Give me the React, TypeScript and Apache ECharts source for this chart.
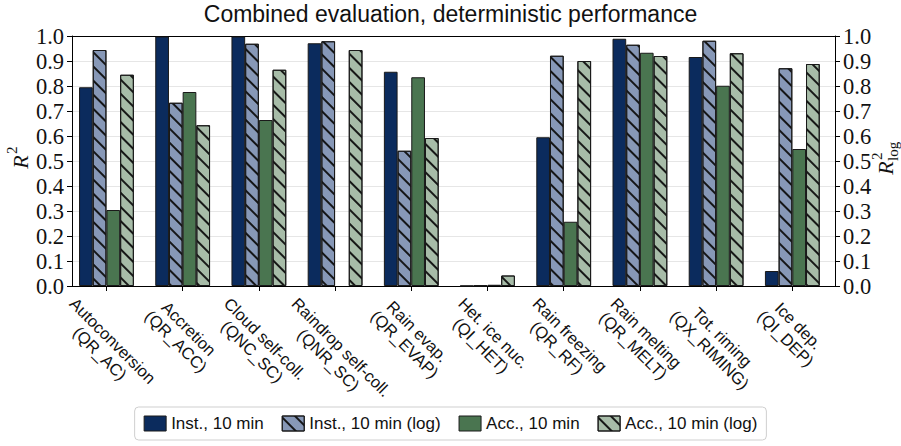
import React, { useEffect, useRef } from "react";
import * as echarts from "echarts";

// Process rates (two-line tick labels)
const categories: string[] = [
  "Autoconversion\n(QR_AC)",
  "Accretion\n(QR_ACC)",
  "Cloud self-coll.\n(QNC_SC)",
  "Raindrop self-coll.\n(QNR_SC)",
  "Rain evap.\n(QR_EVAP)",
  "Het. ice nuc.\n(QI_HET)",
  "Rain freezing\n(QR_RF)",
  "Rain melting\n(QR_MELT)",
  "Tot. riming\n(QX_RIMING)",
  "Ice dep.\n(QI_DEP)",
];

const seriesNames: string[] = [
  "Inst., 10 min",
  "Inst., 10 min (log)",
  "Acc., 10 min",
  "Acc., 10 min (log)",
];

// R^2 scores per process
const instR2: (number | null)[] = [0.795, 0.998, 0.998, 0.971, 0.857, 0.001, 0.595, 0.989, 0.916, 0.06];
const instLogR2: (number | null)[] = [0.944, 0.733, 0.969, 0.979, 0.541, 0.002, 0.921, 0.965, 0.981, 0.871];
const accR2: (number | null)[] = [0.304, 0.776, 0.664, null, 0.835, 0.005, 0.257, 0.933, 0.801, 0.548];
const accLogR2: (number | null)[] = [0.845, 0.643, 0.865, 0.944, 0.592, 0.042, 0.9, 0.92, 0.931, 0.888];

const yTicks: number[] = [0, 0.1, 0.2, 0.3, 0.4, 0.5, 0.6, 0.7, 0.8, 0.9, 1.0];

const COLORS = ["#0b2b5d", "#8798b7", "#4a7550", "#a7bca8"];
const SANS = '"Liberation Sans", Arial, sans-serif';
const SERIF = '"Liberation Serif", "DejaVu Serif", serif';
const LABEL_FONT_SIZE = 16.5;
const LABEL_LINE_HEIGHT = 18;

const hatch = {
  symbol: "rect",
  symbolSize: 1,
  color: "rgba(15,15,15,0.95)",
  dashArrayX: [1, 0],
  dashArrayY: [1.1, 7.5],
  rotation: Math.PI / 4,
};

export default function App() {
  const ref = useRef<HTMLDivElement>(null);

  useEffect(() => {
    document.body.style.margin = "0";
    if (!ref.current) return;
    const chart = echarts.init(ref.current, undefined, { renderer: "svg" });

    const values = [instR2, instLogR2, accR2, accLogR2];
    const series = values.map((arr, k) => ({
      name: seriesNames[k],
      type: "bar",
      xAxisIndex: 0,
      yAxisIndex: 0,
      barWidth: 13.7,
      barGap: "0%",
      data: arr.map((v, i) => [i, v === null ? "-" : v]),
      itemStyle: {
        color: COLORS[k],
        borderColor: "#1a1a1a",
        borderWidth: 1,
        ...(k % 2 === 1 ? { decal: hatch } : {}),
      },
      emphasis: { disabled: true },
    }));

    const catIdx = categories.map((_, i) => i);
    const xMin = -0.452;
    const xMax = 9.56;

    const yAxisBase = {
      type: "value",
      min: 0,
      max: 1,
      interval: 0.1,
      axisLine: { show: true, onZero: false, lineStyle: { color: "#000", width: 1 } },
      axisTick: { show: true, length: 5, inside: false, lineStyle: { color: "#000" } },
      axisLabel: {
        fontFamily: SERIF,
        fontSize: 22.5,
        color: "#111",
        margin: 8,
        formatter: (v: number) => v.toFixed(1),
        customValues: yTicks,
      },
    };

    chart.setOption({
      animation: false,
      title: {
        text: "Combined evaluation, deterministic performance",
        left: "center",
        top: 2,
        padding: [0, 0, 0, 12],
        textStyle: { fontFamily: SANS, fontSize: 23, fontWeight: "normal", color: "#111" },
      },
      grid: { left: 72, right: 66, top: 36, bottom: 160 },
      legend: {
        data: seriesNames,
        left: "center",
        top: 407,
        icon: "rect",
        itemWidth: 22,
        itemHeight: 15,
        itemGap: 18,
        padding: [8, 9],
        borderColor: "#cfcfcf",
        borderWidth: 1,
        borderRadius: 4,
        selectedMode: false,
        textStyle: { fontFamily: SANS, fontSize: 17, color: "#111" },
        itemStyle: { borderColor: "#1a1a1a", borderWidth: 1 },
      },
      xAxis: [
        {
          type: "value",
          min: xMin,
          max: xMax,
          position: "bottom",
          splitLine: { show: false },
          axisLine: { show: true, onZero: false, lineStyle: { color: "#000", width: 1 } },
          axisTick: { show: true, length: 5, customValues: catIdx, lineStyle: { color: "#000" } },
          axisLabel: { show: false },
        },
        {
          type: "value",
          min: xMin,
          max: xMax,
          position: "top",
          splitLine: { show: false },
          axisLine: { show: true, onZero: false, lineStyle: { color: "#000", width: 1 } },
          axisTick: { show: false },
          axisLabel: { show: false },
        },
      ],
      yAxis: [
        {
          ...yAxisBase,
          position: "left",
          splitLine: { show: true, lineStyle: { color: "#e6e6e6", width: 1 } },
        },
        {
          ...yAxisBase,
          position: "right",
          splitLine: { show: false },
        },
      ],
      series,
    });

    // Rotated category labels, centred under each tick
    const ctx = document.createElement("canvas").getContext("2d")!;
    ctx.font = `${LABEL_FONT_SIZE}px ${SANS}`;
    const axisY = chart.convertToPixel({ yAxisIndex: 0 }, 0) as number;
    const labelEls = categories.map((c, i) => {
      const lines = c.split("\n");
      const w = Math.max(...lines.map((l) => ctx.measureText(l).width));
      const h = lines.length * LABEL_LINE_HEIGHT;
      const half = (w + h) / (2 * Math.SQRT2);
      const x = chart.convertToPixel({ xAxisIndex: 0 }, i) as number;
      return {
        type: "text",
        x,
        y: axisY + 8 + half,
        rotation: -Math.PI / 4,
        silent: true,
        style: {
          text: c,
          font: `${LABEL_FONT_SIZE}px ${SANS}`,
          fill: "#111",
          align: "center",
          verticalAlign: "middle",
          lineHeight: LABEL_LINE_HEIGHT,
        },
      };
    });

    const nameStyle = { fontFamily: SERIF, fill: "#111" };
    chart.setOption({
      graphic: [
        ...labelEls,
        {
          type: "group",
          x: 20,
          y: 162,
          rotation: Math.PI / 2,
          silent: true,
          children: [
            { type: "text", x: 0, y: 0, style: { ...nameStyle, text: "R", fontSize: 22, fontStyle: "italic", align: "center", verticalAlign: "middle" } },
            { type: "text", x: 8, y: -8, style: { ...nameStyle, text: "2", fontSize: 15, align: "left", verticalAlign: "middle" } },
          ],
        },
        {
          type: "group",
          x: 885,
          y: 168,
          rotation: Math.PI / 2,
          silent: true,
          children: [
            { type: "text", x: 0, y: 0, style: { ...nameStyle, text: "R", fontSize: 22, fontStyle: "italic", align: "center", verticalAlign: "middle" } },
            { type: "text", x: 8, y: -8, style: { ...nameStyle, text: "2", fontSize: 15, align: "left", verticalAlign: "middle" } },
            { type: "text", x: 7, y: 8, style: { ...nameStyle, text: "log", fontSize: 15, align: "left", verticalAlign: "middle" } },
          ],
        },
      ],
    });

    return () => chart.dispose();
  }, []);

  return <div ref={ref} style={{ width: 901, height: 446 }} />;
}
